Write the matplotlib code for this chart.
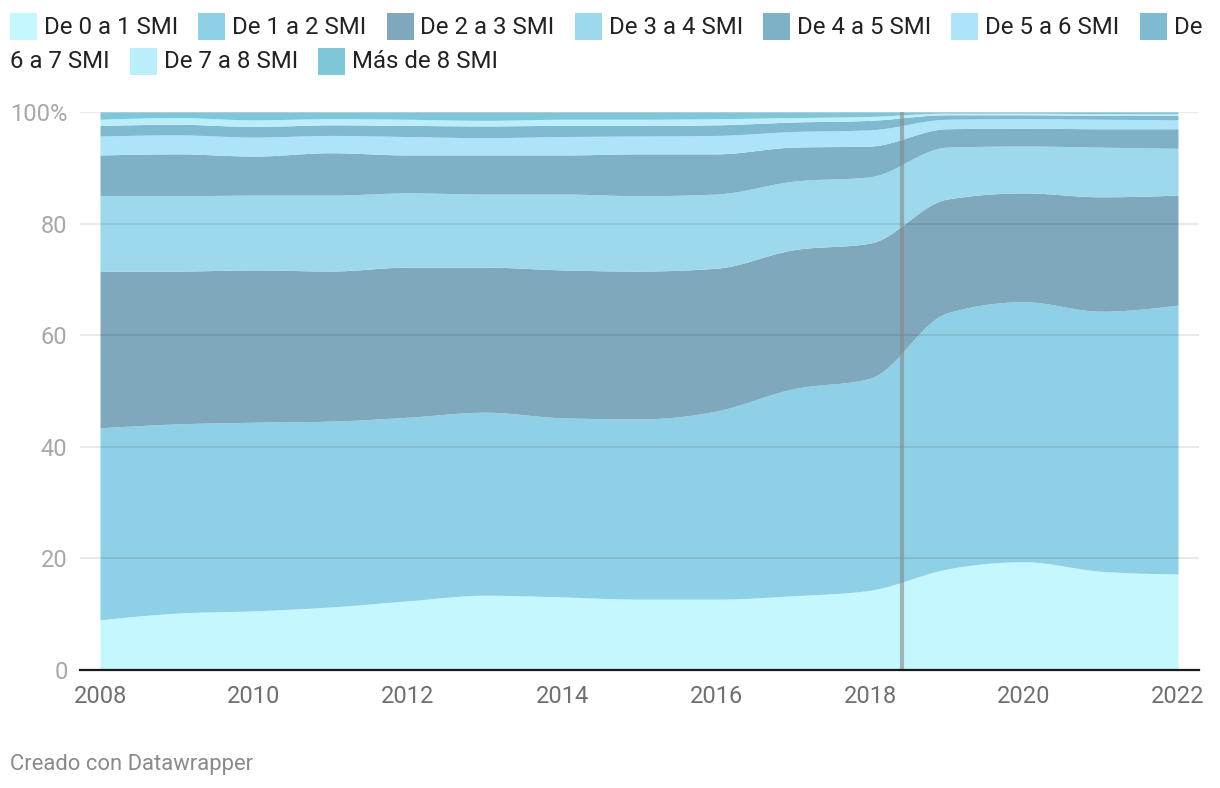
import matplotlib
matplotlib.use("Agg")
import matplotlib.pyplot as plt
from matplotlib.patches import Rectangle
import numpy as np

plt.rcParams["font.family"] = ["Roboto", "DejaVu Sans"]

years = np.arange(2008, 2023)

labels = [
    "De 0 a 1 SMI",
    "De 1 a 2 SMI",
    "De 2 a 3 SMI",
    "De 3 a 4 SMI",
    "De 4 a 5 SMI",
    "De 5 a 6 SMI",
    "De 6 a 7 SMI",
    "De 7 a 8 SMI",
    "Más de 8 SMI",
]
colors = [
    "#c4f8fe", "#8ed0e6", "#7fa8bd", "#9dd9ed", "#7eb0c6",
    "#ade4f9", "#80bad0", "#bbeefb", "#7fc6d9",
]

# share of workers (%) per SMI bracket, 2008-2022
smi_0_1 = [9.0, 10.2, 10.6, 11.3, 12.4, 13.4, 13.1, 12.7, 12.7, 13.3, 14.3, 18.1, 19.4, 17.7, 17.2]
smi_1_2 = [34.4, 33.9, 33.8, 33.3, 32.9, 32.8, 32.1, 32.3, 33.7, 37.1, 38.0, 45.9, 46.6, 46.6, 48.2]
smi_2_3 = [28.1, 27.4, 27.3, 26.9, 26.9, 26.0, 26.5, 26.5, 25.6, 24.9, 24.2, 20.4, 19.5, 20.5, 19.7]
smi_3_4 = [13.5, 13.5, 13.4, 13.6, 13.3, 13.1, 13.6, 13.5, 13.3, 12.3, 11.9, 9.3, 8.4, 8.9, 8.4]
smi_4_5 = [7.3, 7.5, 7.0, 7.6, 6.8, 7.0, 7.0, 7.5, 7.2, 6.1, 5.5, 3.3, 3.2, 3.3, 3.5]
smi_5_6 = [3.4, 3.4, 3.4, 3.1, 3.3, 3.1, 3.3, 3.2, 3.3, 2.8, 2.9, 1.7, 1.7, 1.7, 1.6]
smi_6_7 = [1.9, 1.9, 1.9, 1.9, 2.0, 2.1, 2.0, 1.9, 1.9, 1.7, 1.7, 0.8, 0.7, 0.7, 0.8]
smi_7_8 = [1.1, 1.2, 1.2, 1.1, 1.1, 1.0, 1.1, 1.1, 1.1, 0.8, 0.7, 0.3, 0.3, 0.3, 0.3]
smi_8_plus = [1.3, 1.0, 1.4, 1.2, 1.3, 1.5, 1.3, 1.3, 1.2, 1.0, 0.8, 0.2, 0.2, 0.3, 0.3]

series = [smi_0_1, smi_1_2, smi_2_3, smi_3_4, smi_4_5,
          smi_5_6, smi_6_7, smi_7_8, smi_8_plus]

break_year = 2018.42  # vertical marker line


def monotone_curve(x, y, steps=24):
    """Monotone cubic (d3 curveMonotoneX style) used only for drawing."""
    x = np.asarray(x, float)
    y = np.asarray(y, float)
    h = np.diff(x)
    s = np.diff(y) / h
    n = len(x)
    t = np.zeros(n)
    sgn = lambda v: -1.0 if v < 0 else 1.0
    for i in range(1, n - 1):
        p = (s[i - 1] * h[i] + s[i] * h[i - 1]) / (h[i - 1] + h[i])
        t[i] = (sgn(s[i - 1]) + sgn(s[i])) * min(abs(s[i - 1]), abs(s[i]), 0.5 * abs(p))
    t[0] = (3 * s[0] - t[1]) / 2
    t[-1] = (3 * s[-1] - t[-2]) / 2
    xs, ys = [], []
    for i in range(n - 1):
        u = np.linspace(0, 1, steps, endpoint=(i == n - 2))
        h00 = 2 * u**3 - 3 * u**2 + 1
        h10 = u**3 - 2 * u**2 + u
        h01 = -2 * u**3 + 3 * u**2
        h11 = u**3 - u**2
        xs.append(x[i] + u * h[i])
        ys.append(h00 * y[i] + h10 * h[i] * t[i] + h01 * y[i + 1] + h11 * h[i] * t[i + 1])
    return np.concatenate(xs), np.concatenate(ys)


W, H = 1220, 788
fig = plt.figure(figsize=(W / 100, H / 100), dpi=100)
ax = fig.add_axes([80 / W, 1 - 670 / H, (1199 - 80) / W, (670 - 112) / H])

cum = np.cumsum(np.array(series), axis=0)
lower_x, lower_y = monotone_curve(years, np.zeros(len(years)))
for i, col in enumerate(colors):
    ux, uy = monotone_curve(years, cum[i])
    ax.fill_between(ux, lower_y, uy, color=col, linewidth=0, zorder=2)
    lower_y = uy

for yv in [20, 40, 60, 80, 100]:
    ax.axhline(yv, color="black", alpha=0.1, linewidth=1.2, zorder=3)

ax.axvline(break_year, color="#888888", alpha=0.6, linewidth=3, zorder=4)

px_year = (1178 - 100) / 14
ax.set_xlim(2008 - 20 / px_year, 2022 + 21 / px_year)
ax.set_ylim(0, 100)

ax.set_xticks(range(2008, 2023, 2))
ax.set_xticklabels([str(y) for y in range(2008, 2023, 2)])
ax.set_yticks([0, 20, 40, 60, 80, 100])
ax.set_yticklabels(["0", "20", "40", "60", "80", "100%"])
ax.tick_params(axis="x", length=0, pad=11, labelsize=17, labelcolor="#6f6f6f")
ax.tick_params(axis="y", length=0, pad=9, labelsize=17, labelcolor="#a8a8a8")

for side in ["top", "right", "left"]:
    ax.spines[side].set_visible(False)
ax.spines["bottom"].set_color("#1a1a1a")
ax.spines["bottom"].set_linewidth(1.6)
ax.spines["bottom"].set_zorder(5)

# legend laid out by hand, wrapping like the original
renderer = fig.canvas.get_renderer()


def fx(px):
    return px / W


def fy(px):
    return 1 - px / H


swatch_mid = [26, 61.5]
text_base = [34.5, 67.5]
row = 0
cursor = 10
legend_size = 17.3
for i, (lab, col) in enumerate(zip(labels, colors)):
    fig.patches.append(Rectangle((fx(cursor), fy(swatch_mid[row] + 13.5)), fx(27), 27 / H,
                                 transform=fig.transFigure, facecolor=col,
                                 edgecolor="none"))
    if i == 6:
        first, rest = lab.split(" ", 1)
        fig.text(fx(cursor + 34), fy(text_base[row]), first, fontsize=legend_size,
                 color="#222222", va="baseline", ha="left")
        row = 1
        t = fig.text(fx(10), fy(text_base[row]), rest, fontsize=legend_size,
                     color="#222222", va="baseline", ha="left")
    else:
        t = fig.text(fx(cursor + 34), fy(text_base[row]), lab, fontsize=legend_size,
                     color="#222222", va="baseline", ha="left")
    bb = t.get_window_extent(renderer)
    cursor = bb.x1 + 20

fig.text(fx(10), fy(770), "Creado con Datawrapper", fontsize=15.8,
         color="#8a8a8a", va="baseline", ha="left")

fig.savefig("out.png", dpi=100)
